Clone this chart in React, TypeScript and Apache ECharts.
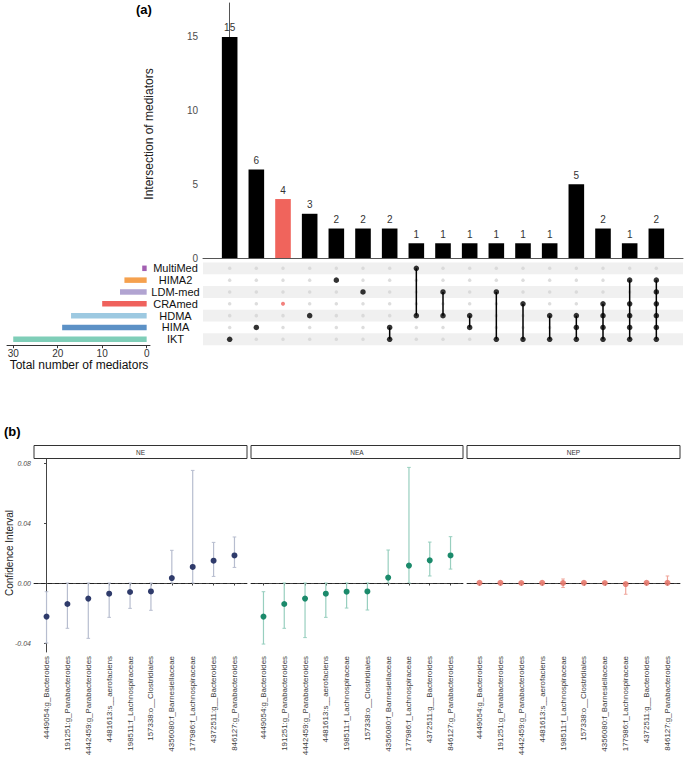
import React, { useEffect, useRef } from "react";
import * as echarts from "echarts";

// ---------- Panel (a) data ----------
const intersectionCounts = [15, 6, 4, 3, 2, 2, 2, 1, 1, 1, 1, 1, 1, 5, 2, 1, 2];
const intersectionMembers: string[][] = [
  ["IKT"],
  ["HIMA"],
  ["CRAmed"],
  ["HDMA"],
  ["HIMA2"],
  ["LDM-med"],
  ["HIMA", "IKT"],
  ["MultiMed", "HDMA"],
  ["LDM-med", "HDMA"],
  ["HDMA", "HIMA"],
  ["LDM-med", "IKT"],
  ["CRAmed", "IKT"],
  ["HDMA", "IKT"],
  ["HDMA", "HIMA", "IKT"],
  ["CRAmed", "HDMA", "HIMA", "IKT"],
  ["HIMA2", "CRAmed", "HDMA", "HIMA", "IKT"],
  ["HIMA2", "LDM-med", "CRAmed", "HDMA", "HIMA", "IKT"],
];
const highlightedIntersection = 2;
const setNames = ["MultiMed", "HIMA2", "LDM-med", "CRAmed", "HDMA", "HIMA", "IKT"]; // top to bottom
const setSizes = [1, 5, 6, 10, 17, 19, 30];
const setColors = ["#a25fb1", "#f5a14e", "#b1a4d1", "#ef625d", "#9dc9e1", "#5c91c6", "#7fceb8"];
const intersectionTicks = [0, 5, 10, 15];
const setSizeTicks = [0, 10, 20, 30];

// ---------- Panel (b) data ----------
const taxa = [
  "4449054:g_Bacteroides",
  "191251:g_Parabacteroides",
  "4442459:g_Parabacteroides",
  "4481613:s__aerofaciens",
  "198511:f_Lachnospiraceae",
  "157338:o__Clostridiales",
  "4356080:f_Barnesiellaceae",
  "177986:f_Lachnospiraceae",
  "4372511:g__Bacteroides",
  "846127:g_Parabacteroides",
];
const facetNames = ["NE", "NEA", "NEP"];
const neEstimate = [-0.0224, -0.014, -0.0104, -0.0071, -0.006, -0.0056, 0.0033, 0.0107, 0.0149, 0.0184];
const neLower = [-0.04, -0.0302, -0.0369, -0.0229, -0.0169, -0.0182, 0.0, 0.0, 0.0044, 0.0104];
const neUpper = [-0.0058, 0.0, 0.0, 0.0, 0.0, 0.0, 0.0218, 0.0751, 0.0271, 0.0307];
const neaEstimate = [-0.0224, -0.014, -0.0104, -0.0071, -0.0058, -0.0056, 0.0036, 0.0116, 0.0151, 0.0184];
const neaLower = [-0.0407, -0.0302, -0.0364, -0.0229, -0.0167, -0.018, 0.0, 0.0, 0.0047, 0.0093];
const neaUpper = [-0.0058, 0.0, 0.0, 0.0, 0.0, 0.0, 0.022, 0.0771, 0.0273, 0.0309];
const nepEstimate = [0.0001, 0.0001, 0.0, 0.0001, 0.0, 0.0001, 0.0, -0.0007, 0.0001, 0.0001];
const nepLower = [-0.0003, -0.0003, -0.0003, -0.0003, -0.003, -0.0003, -0.0003, -0.0075, -0.0003, 0.0];
const nepUpper = [0.0004, 0.0004, 0.0003, 0.0004, 0.0027, 0.0004, 0.0003, 0.0, 0.0004, 0.0047];
const ciTicks = [-0.04, 0, 0.04, 0.08];

const FONT = "'Liberation Sans', Arial, Helvetica, sans-serif";

export default function App() {
  const ref = useRef<HTMLDivElement>(null);

  useEffect(() => {
    if (!ref.current) return;
    const chart = echarts.init(ref.current, undefined, { renderer: "svg" });

    const rowOf = (name: string) => setNames.length - 1 - setNames.indexOf(name);

    // matrix data
    const grayDots: number[][] = [];
    const memberDots: any[] = [];
    const connectors: number[][] = [];
    intersectionMembers.forEach((mem, i) => {
      const rows = mem.map(rowOf);
      for (let r = 0; r < setNames.length; r++) {
        if (!rows.includes(r)) grayDots.push([i, r]);
      }
      rows.forEach((r) =>
        memberDots.push({
          value: [i, r],
          itemStyle: { color: i === highlightedIntersection ? "#ef625d" : "#000" },
          symbolSize: i === highlightedIntersection ? 4 : 5.5,
        })
      );
      if (rows.length > 1) connectors.push([i, Math.min(...rows), Math.max(...rows)]);
    });

    const stripeRows = [6, 4, 2, 0];

    const facetData = [
      { est: neEstimate, lo: neLower, hi: neUpper, point: "#2f3b6b", bar: "#b7bdcf" },
      { est: neaEstimate, lo: neaLower, hi: neaUpper, point: "#1b8a6b", bar: "#98cfbf" },
      { est: nepEstimate, lo: nepLower, hi: nepUpper, point: "#e5756a", bar: "#f0a79c" },
    ];
    const facetGrids = [
      { left: 34, width: 213 },
      { left: 251, width: 212 },
      { left: 467, width: 213 },
    ];
    const panelTop = 459;
    const panelHeight = 193;
    const yMin = -0.046;
    const yMax = 0.0827;

    const grids: any[] = [
      { left: 203, top: 3, width: 480, height: 255, outerBoundsMode: "none", containLabel: false },
      { left: 203, top: 262.4, width: 480, height: 82.8, outerBoundsMode: "none", containLabel: false },
      { left: 7, top: 262.4, width: 143, height: 82.8, outerBoundsMode: "none", containLabel: false },
      ...facetGrids.map((g) => ({
        left: g.left, top: panelTop, width: g.width, height: panelHeight,
        outerBoundsMode: "none", containLabel: false,
      })),
    ];

    const axisGray = "#444";
    const xAxes: any[] = [
      {
        gridIndex: 0, type: "value", min: -1, max: 17,
        axisLine: { show: true, lineStyle: { color: "#555", width: 1 } },
        axisTick: { show: false }, axisLabel: { show: false }, splitLine: { show: false },
      },
      { gridIndex: 1, type: "value", min: -1, max: 17, show: false },
      {
        gridIndex: 2, type: "value", min: -0.75, max: 31.4, inverse: true,
        axisLine: { show: true, lineStyle: { color: "#333", width: 1 } },
        axisTick: { show: true, length: 3, customValues: setSizeTicks, lineStyle: { color: "#333" } },
        axisLabel: { customValues: setSizeTicks, fontSize: 10, color: "#333", margin: 3, fontFamily: FONT },
        splitLine: { show: false },
      },
      ...facetGrids.map((_, k) => ({
        gridIndex: 3 + k, type: "value", min: -0.6, max: 9.6,
        axisLine: { show: true, lineStyle: { color: axisGray, width: 1 } },
        axisTick: { show: true, length: 2.5, customValues: taxa.map((_, i) => i), lineStyle: { color: axisGray } },
        axisLabel: {
          customValues: taxa.map((_, i) => i),
          formatter: (v: number) => taxa[Math.round(v)] ?? "",
          rotate: 90, fontSize: 7.9, color: "#3d3d3d", margin: 4, fontFamily: FONT,
        },
        splitLine: { show: false },
      })),
    ];

    const yAxes: any[] = [
      {
        gridIndex: 0, type: "value", min: 0, max: 17.3,
        axisLine: { show: true, lineStyle: { color: "#555", width: 1 } },
        axisTick: { show: true, length: 3, customValues: intersectionTicks, lineStyle: { color: "#555" } },
        axisLabel: { customValues: intersectionTicks, fontSize: 10, color: "#4d4d4d", margin: 5, fontFamily: FONT },
        splitLine: { show: false },
      },
      { gridIndex: 1, type: "value", min: -0.5, max: 6.5, show: false },
      {
        gridIndex: 2, type: "category", data: setNames, inverse: true, position: "right",
        axisLine: { show: false }, axisTick: { show: false },
        axisLabel: { interval: 0, align: "center", margin: 25.5, fontSize: 11, color: "#111", fontFamily: FONT },
      },
      ...facetGrids.map((_, k) => ({
        gridIndex: 3 + k, type: "value", min: yMin, max: yMax, show: k === 0,
        axisLine: { show: true, lineStyle: { color: axisGray, width: 1 } },
        axisTick: { show: true, length: 2.5, customValues: ciTicks, lineStyle: { color: axisGray } },
        axisLabel: {
          customValues: ciTicks,
          formatter: (v: number) => v.toFixed(2),
          fontSize: 7, fontStyle: "italic", color: "#4d4d4d", margin: 3, fontFamily: FONT,
        },
        splitLine: { show: false },
      })),
    ];

    const series: any[] = [
      {
        type: "bar", xAxisIndex: 0, yAxisIndex: 0, barWidth: 15.6,
        data: intersectionCounts.map((v, i) => ({
          value: [i, v],
          itemStyle: { color: i === highlightedIntersection ? "#f0645c" : "#000" },
        })),
        label: { show: true, position: "top", distance: 4, fontSize: 10, color: "#333", fontFamily: FONT,
          formatter: (p: any) => String(p.value[1]) },
      },
      {
        type: "scatter", xAxisIndex: 1, yAxisIndex: 1, symbolSize: 3.5,
        itemStyle: { color: "#d4d4d4" }, data: grayDots, z: 3,
        markArea: {
          silent: true,
          itemStyle: { color: "#f0f0f0" },
          data: stripeRows.map((r) => [
            { xAxis: -1, yAxis: r - 0.5 },
            { xAxis: 17, yAxis: r + 0.5 },
          ]),
        },
      },
      {
        type: "custom", xAxisIndex: 1, yAxisIndex: 1, data: connectors, z: 4,
        encode: { x: 0, y: [1, 2] },
        renderItem: (_p: any, api: any) => {
          const a = api.coord([api.value(0), api.value(1)]);
          const b = api.coord([api.value(0), api.value(2)]);
          return { type: "line", shape: { x1: a[0], y1: a[1], x2: b[0], y2: b[1] }, style: { stroke: "#000", lineWidth: 1.5 } };
        },
      },
      { type: "scatter", xAxisIndex: 1, yAxisIndex: 1, data: memberDots, z: 5 },
      {
        type: "bar", xAxisIndex: 2, yAxisIndex: 2, barWidth: 5.5,
        data: setSizes.map((v, i) => ({ value: v, itemStyle: { color: setColors[i] } })),
      },
    ];

    facetData.forEach((f, k) => {
      series.push({
        type: "custom", xAxisIndex: 3 + k, yAxisIndex: 3 + k, z: 3,
        data: taxa.map((_, i) => [i, f.lo[i], f.hi[i]]),
        encode: { x: 0, y: [1, 2] },
        renderItem: (_p: any, api: any) => {
          const x = api.value(0);
          const top = api.coord([x, api.value(2)]);
          const bot = api.coord([x, api.value(1)]);
          const cap = 1.8;
          return {
            type: "group",
            children: [
              { type: "line", shape: { x1: top[0], y1: top[1], x2: bot[0], y2: bot[1] }, style: { stroke: f.bar, lineWidth: 1.2 } },
              { type: "line", shape: { x1: top[0] - cap, y1: top[1], x2: top[0] + cap, y2: top[1] }, style: { stroke: f.bar, lineWidth: 1 } },
              { type: "line", shape: { x1: bot[0] - cap, y1: bot[1], x2: bot[0] + cap, y2: bot[1] }, style: { stroke: f.bar, lineWidth: 1 } },
            ],
          };
        },
      });
      series.push({
        type: "scatter", xAxisIndex: 3 + k, yAxisIndex: 3 + k, z: 5,
        symbolSize: 6,
        itemStyle: { color: f.point, opacity: k === 2 ? 0.85 : 1 },
        data: taxa.map((_, i) => [i, f.est[i]]),
        markLine: {
          silent: true, symbol: ["none", "none"], label: { show: false },
          lineStyle: { type: [4, 3], color: "#222", width: 1 },
          data: [{ yAxis: 0 }],
        },
      });
    });

    const graphics: any[] = [
      { type: "text", left: 136, top: 3, style: { text: "(a)", font: `bold 13px ${FONT}`, fill: "#000" } },
      { type: "text", left: 4, top: 425, style: { text: "(b)", font: `bold 13px ${FONT}`, fill: "#000" } },
      {
        type: "text", x: 149, y: 134, rotation: Math.PI / 2,
        style: { text: "Intersection of mediators", font: `12px ${FONT}`, fill: "#222", align: "center", verticalAlign: "middle" },
      },
      {
        type: "text", x: 79, y: 365,
        style: { text: "Total number of mediators", font: `12px ${FONT}`, fill: "#111", align: "center", verticalAlign: "middle" },
      },
      {
        type: "text", x: 9, y: 553, rotation: Math.PI / 2,
        style: { text: "Confidence Interval", font: `10px ${FONT}`, fill: "#222", align: "center", verticalAlign: "middle" },
      },
    ];
    facetGrids.forEach((g, k) => {
      graphics.push({
        type: "rect", shape: { x: g.left, y: 445.5, width: g.width, height: 13 },
        style: { fill: "#fff", stroke: "#333", lineWidth: 1 },
      });
      graphics.push({
        type: "text", x: g.left + g.width / 2, y: 452,
        style: { text: facetNames[k], font: `6.5px ${FONT}`, fill: "#333", align: "center", verticalAlign: "middle" },
      });
    });

    chart.setOption({
      animation: false,
      backgroundColor: "#fff",
      textStyle: { fontFamily: FONT },
      grid: grids,
      xAxis: xAxes,
      yAxis: yAxes,
      series,
      graphic: graphics,
    });

    return () => chart.dispose();
  }, []);

  return <div ref={ref} style={{ position: "fixed", left: 0, top: 0, width: 686, height: 761 }} />;
}
